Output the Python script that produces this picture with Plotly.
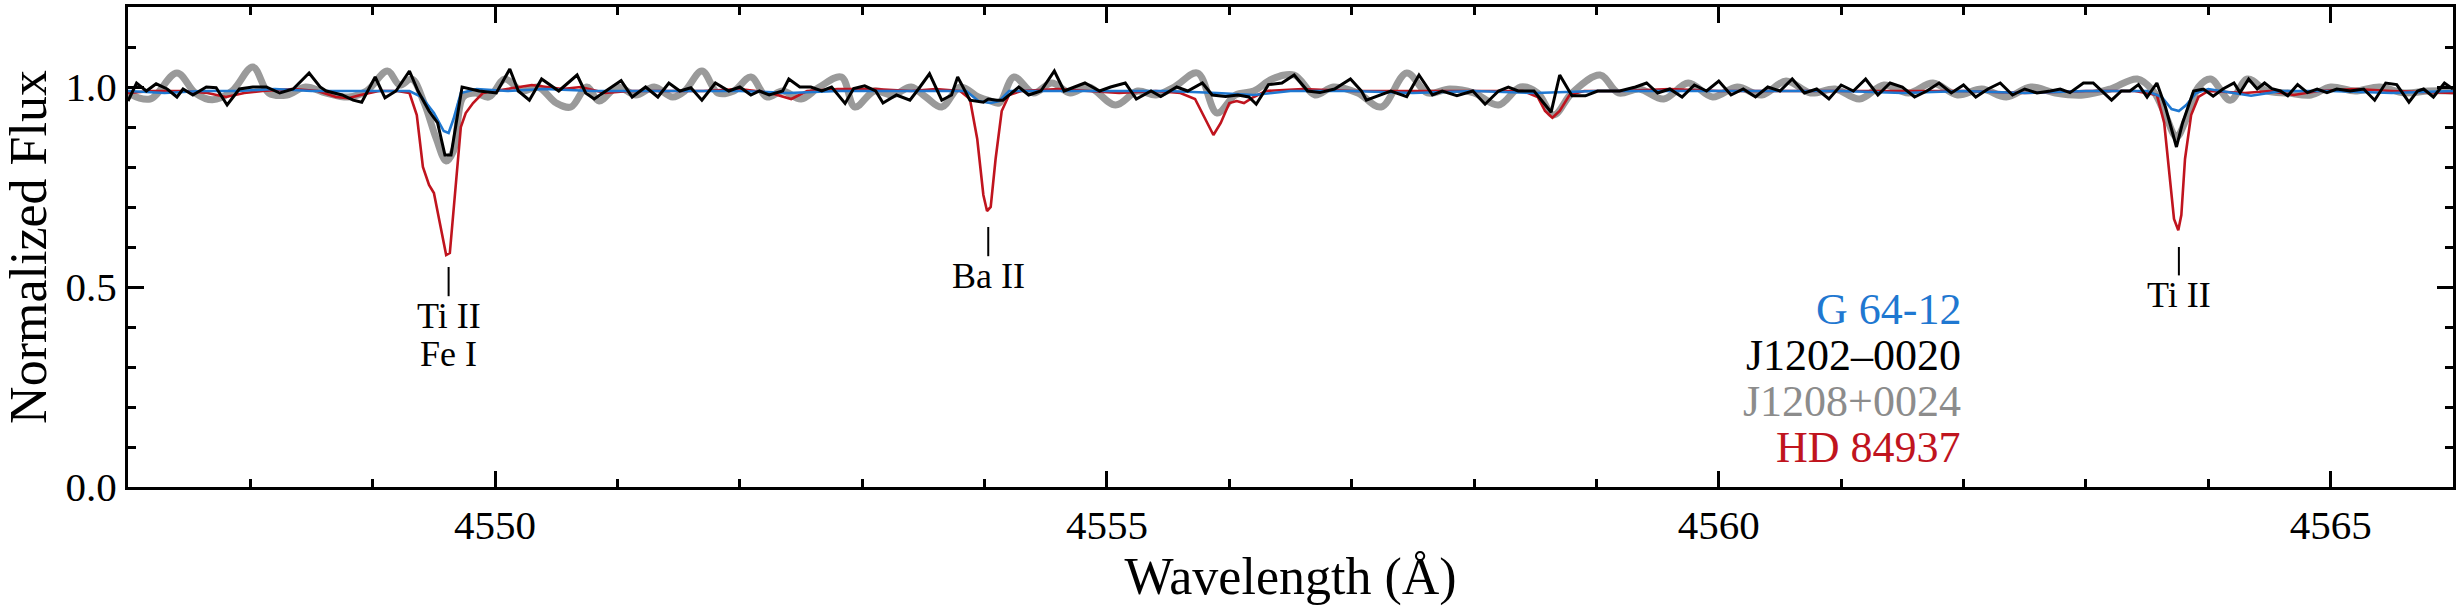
import plotly.graph_objects as go

# ---------------- data ----------------
# J1208+0024 (thick grey)
wave_gray = [4547.00, 4547.18, 4547.40, 4547.55, 4547.69, 4547.85, 4548.02, 4548.15, 4548.30, 4548.45,
             4548.62, 4548.80, 4548.95, 4549.12, 4549.22, 4549.32, 4549.42, 4549.52, 4549.60, 4549.66,
             4549.74, 4549.84, 4549.95, 4550.08, 4550.22, 4550.35, 4550.50, 4550.62, 4550.75, 4550.85,
             4551.00, 4551.15, 4551.30, 4551.45, 4551.55, 4551.69, 4551.82, 4551.95, 4552.09, 4552.22,
             4552.35, 4552.50, 4552.65, 4552.83, 4552.94, 4553.10, 4553.25, 4553.40, 4553.52, 4553.65,
             4553.80, 4553.95, 4554.05, 4554.12, 4554.24, 4554.40, 4554.55, 4554.70, 4554.85, 4555.07,
             4555.25, 4555.40, 4555.55, 4555.74, 4555.90, 4556.05, 4556.20, 4556.35, 4556.53, 4556.70,
             4556.85, 4557.05, 4557.24, 4557.45, 4557.62, 4557.80, 4558.00, 4558.20, 4558.38, 4558.52,
             4558.65, 4558.80, 4559.03, 4559.18, 4559.35, 4559.55, 4559.75, 4559.95, 4560.15, 4560.35,
             4560.55, 4560.75, 4560.95, 4561.15, 4561.35, 4561.55, 4561.75, 4561.95, 4562.15, 4562.35,
             4562.55, 4562.75, 4562.98, 4563.20, 4563.42, 4563.55, 4563.65, 4563.74, 4563.82, 4563.92,
             4564.02, 4564.18, 4564.32, 4564.48, 4564.65, 4564.84, 4565.00, 4565.20, 4565.40, 4565.60,
             4565.80, 4566.00]
flux_gray = [0.985, 0.970, 1.035, 0.985, 0.968, 0.990, 1.050, 0.985, 0.980, 1.000,
             0.985, 0.975, 0.990, 1.040, 1.005, 1.020, 0.960, 0.870, 0.815, 0.840,
             0.975, 0.985, 0.975, 1.020, 0.990, 1.000, 0.960, 0.950, 1.000, 0.965,
             1.000, 0.980, 1.000, 0.975, 0.990, 1.040, 0.985, 0.990, 1.025, 0.975,
             0.990, 0.970, 1.000, 1.025, 0.950, 0.990, 0.980, 1.000, 0.975, 0.950,
             1.000, 0.975, 0.965, 0.960, 1.025, 0.985, 1.010, 0.985, 1.000, 0.955,
             0.990, 0.980, 1.000, 1.035, 0.935, 0.980, 0.990, 1.020, 1.030, 0.980,
             1.000, 0.985, 0.950, 1.035, 0.985, 0.995, 0.985, 0.955, 1.000, 0.985,
             0.930, 0.985, 1.030, 0.985, 0.995, 0.970, 1.010, 0.975, 1.000, 0.980,
             1.015, 0.985, 0.995, 0.970, 1.005, 0.985, 1.010, 0.980, 0.995, 0.975,
             1.000, 0.985, 0.980, 0.995, 1.020, 0.990, 0.930, 0.875, 0.920, 1.000,
             1.020, 0.967, 1.020, 0.990, 0.985, 0.980, 1.000, 0.990, 1.000, 0.985,
             0.990, 0.990]

# HD 84937 (red)
wave_red = [4547.00, 4547.20, 4547.45, 4547.65, 4547.80, 4547.95, 4548.10, 4548.35, 4548.55, 4548.70,
            4548.80, 4548.90, 4549.05, 4549.20, 4549.30, 4549.36, 4549.41, 4549.46, 4549.50, 4549.55,
            4549.60, 4549.63, 4549.68, 4549.72, 4549.76, 4549.82, 4549.90, 4550.00, 4550.30, 4550.55,
            4550.70, 4550.90, 4551.10, 4551.40, 4551.70, 4552.00, 4552.25, 4552.42, 4552.55, 4552.80,
            4553.10, 4553.40, 4553.60, 4553.80, 4553.88, 4553.94, 4553.99, 4554.02, 4554.05, 4554.09,
            4554.14, 4554.20, 4554.30, 4554.60, 4554.90, 4555.10, 4555.40, 4555.60, 4555.72, 4555.80,
            4555.87, 4555.93, 4556.00, 4556.06, 4556.12, 4556.20, 4556.30, 4556.60, 4557.00, 4557.40,
            4557.80, 4558.10, 4558.40, 4558.52, 4558.58, 4558.64, 4558.70, 4558.78, 4558.90, 4559.20,
            4559.60, 4560.00, 4560.50, 4561.00, 4561.50, 4562.00, 4562.50, 4563.00, 4563.40, 4563.58,
            4563.64, 4563.68, 4563.72, 4563.755, 4563.78, 4563.81, 4563.86, 4563.92, 4564.00, 4564.30,
            4564.50, 4564.70, 4564.90, 4565.20, 4565.50, 4566.00]
flux_red = [0.985, 0.990, 0.990, 0.985, 0.975, 0.985, 0.990, 0.995, 0.990, 0.975,
            0.972, 0.980, 0.990, 0.990, 0.985, 0.930, 0.800, 0.755, 0.735, 0.660,
            0.580, 0.585, 0.770, 0.900, 0.935, 0.960, 0.985, 0.990, 1.005, 0.995,
            1.000, 0.985, 0.990, 0.990, 0.990, 0.995, 0.985, 0.970, 0.990, 0.995,
            0.995, 0.990, 0.995, 0.990, 0.970, 0.870, 0.730, 0.690, 0.700, 0.820,
            0.940, 0.980, 0.990, 0.995, 0.990, 0.985, 0.990, 0.985, 0.970, 0.920,
            0.880, 0.910, 0.960, 0.965, 0.960, 0.975, 0.990, 0.995, 0.990, 0.990,
            0.990, 0.990, 0.990, 0.975, 0.940, 0.923, 0.940, 0.980, 0.990, 0.990,
            0.995, 0.990, 0.990, 0.990, 0.990, 0.990, 0.985, 0.990, 0.990, 0.980,
            0.910, 0.780, 0.670, 0.642, 0.680, 0.820, 0.930, 0.975, 0.990, 0.985,
            0.990, 0.980, 0.990, 0.995, 0.990, 0.985]

# G 64-12 (blue)
wave_blue = [4547.00, 4547.30, 4547.60, 4547.90, 4548.20, 4548.50, 4548.80, 4549.10, 4549.30, 4549.40,
             4549.50, 4549.58, 4549.62, 4549.66, 4549.72, 4549.85, 4550.10, 4550.40, 4550.80, 4551.20,
             4551.60, 4552.00, 4552.40, 4552.80, 4553.20, 4553.60, 4553.85, 4553.95, 4554.05, 4554.12,
             4554.20, 4554.60, 4555.00, 4555.50, 4555.90, 4556.20, 4556.50, 4557.00, 4557.50, 4558.00,
             4558.50, 4559.00, 4559.50, 4560.00, 4560.50, 4561.00, 4561.50, 4562.00, 4562.50, 4563.00,
             4563.50, 4563.62, 4563.70, 4563.76, 4563.82, 4563.90, 4564.00, 4564.35, 4564.60, 4565.00,
             4565.50, 4566.00]
flux_blue = [0.990, 0.985, 0.990, 0.990, 0.995, 0.990, 0.990, 0.990, 0.990, 0.975,
             0.935, 0.890, 0.885, 0.920, 0.985, 0.995, 0.990, 0.995, 0.990, 0.990,
             0.990, 0.990, 0.985, 0.990, 0.990, 0.990, 0.990, 0.965, 0.960, 0.965,
             0.990, 0.990, 0.990, 0.990, 0.985, 0.980, 0.990, 0.990, 0.985, 0.990,
             0.985, 0.990, 0.990, 0.990, 0.990, 0.990, 0.985, 0.990, 0.985, 0.990,
             0.990, 0.975, 0.945, 0.940, 0.955, 0.985, 0.995, 0.978, 0.990, 0.990,
             0.985, 0.990]

# J1202-0020 (black)
wave_black = [4547.00, 4547.07, 4547.15, 4547.23, 4547.32, 4547.40, 4547.45, 4547.53, 4547.64, 4547.72,
              4547.81, 4547.91, 4548.02, 4548.13, 4548.24, 4548.35, 4548.48, 4548.57, 4548.62, 4548.75,
              4548.84, 4548.91, 4549.02, 4549.10, 4549.19, 4549.30, 4549.37, 4549.46, 4549.53, 4549.59,
              4549.64, 4549.73, 4549.87, 4550.01, 4550.12, 4550.19, 4550.28, 4550.38, 4550.52, 4550.67,
              4550.74, 4550.81, 4550.92, 4551.03, 4551.12, 4551.23, 4551.33, 4551.42, 4551.51, 4551.60,
              4551.69, 4551.80, 4551.91, 4552.00, 4552.09, 4552.16, 4552.24, 4552.35, 4552.40, 4552.49,
              4552.58, 4552.67, 4552.75, 4552.86, 4552.93, 4553.02, 4553.11, 4553.17, 4553.28, 4553.39,
              4553.46, 4553.55, 4553.65, 4553.73, 4553.78, 4553.88, 4553.99, 4554.03, 4554.10, 4554.15,
              4554.28, 4554.36, 4554.46, 4554.57, 4554.65, 4554.82, 4554.94, 4555.03, 4555.15, 4555.24,
              4555.36, 4555.44, 4555.57, 4555.66, 4555.78, 4555.86, 4555.97, 4556.07, 4556.16, 4556.22,
              4556.32, 4556.43, 4556.53, 4556.64, 4556.74, 4556.86, 4556.99, 4557.08, 4557.12, 4557.24,
              4557.32, 4557.45, 4557.55, 4557.66, 4557.74, 4557.86, 4557.99, 4558.09, 4558.20, 4558.28,
              4558.36, 4558.49, 4558.63, 4558.70, 4558.80, 4558.91, 4559.01, 4559.11, 4559.19, 4559.32,
              4559.41, 4559.50, 4559.60, 4559.70, 4559.80, 4559.90, 4560.00, 4560.10, 4560.20, 4560.30,
              4560.40, 4560.50, 4560.60, 4560.70, 4560.80, 4560.90, 4561.00, 4561.10, 4561.20, 4561.30,
              4561.40, 4561.50, 4561.60, 4561.70, 4561.80, 4561.90, 4562.00, 4562.10, 4562.20, 4562.30,
              4562.40, 4562.50, 4562.60, 4562.71, 4562.79, 4562.87, 4562.98, 4563.06, 4563.14, 4563.21,
              4563.29, 4563.36, 4563.43, 4563.50, 4563.58, 4563.65, 4563.74, 4563.79, 4563.88, 4563.96,
              4564.04, 4564.12, 4564.21, 4564.26, 4564.33, 4564.40, 4564.46, 4564.52, 4564.59, 4564.65,
              4564.73, 4564.81, 4564.89, 4564.97, 4565.05, 4565.16, 4565.27, 4565.36, 4565.45, 4565.54,
              4565.64, 4565.71, 4565.76, 4565.84, 4565.93, 4566.00]
flux_black = [0.965, 1.010, 0.990, 1.008, 0.995, 0.975, 0.995, 0.980, 1.000, 0.998,
              0.955, 0.995, 1.000, 1.000, 0.985, 0.995, 1.035, 1.000, 0.990, 0.980,
              0.967, 0.962, 1.025, 0.973, 0.990, 1.040, 0.990, 0.940, 0.910, 0.830,
              0.830, 1.000, 0.990, 0.985, 1.045, 0.990, 0.967, 1.020, 0.990, 1.030,
              0.985, 0.970, 0.993, 1.016, 0.975, 1.000, 0.975, 1.010, 0.990, 0.998,
              0.967, 1.010, 0.990, 1.000, 0.980, 0.990, 0.980, 0.990, 1.020, 1.000,
              1.000, 0.990, 1.000, 0.959, 0.996, 1.003, 0.990, 0.960, 0.980, 0.967,
              0.995, 1.033, 0.967, 0.980, 1.025, 0.967, 0.962, 0.970, 0.967, 0.967,
              1.000, 0.980, 0.990, 1.040, 0.990, 1.010, 0.990, 1.000, 1.010, 0.970,
              0.990, 0.976, 1.000, 0.990, 1.010, 0.980, 0.976, 0.980, 0.975, 0.957,
              1.006, 1.010, 1.030, 0.990, 0.986, 0.995, 1.020, 0.990, 0.967, 0.980,
              0.990, 0.976, 1.030, 0.980, 0.990, 0.978, 0.990, 0.957, 0.990, 1.000,
              0.990, 0.990, 0.937, 1.030, 0.978, 0.978, 0.990, 0.990, 0.990, 1.000,
              1.010, 0.985, 0.995, 0.975, 1.005, 0.990, 1.015, 0.980, 0.995, 0.975,
              1.000, 0.990, 1.020, 0.985, 0.995, 0.970, 1.005, 0.990, 1.020, 0.980,
              1.010, 1.000, 0.975, 0.990, 1.010, 0.985, 1.005, 0.975, 0.995, 1.010,
              0.980, 0.995, 0.985, 0.990, 0.995, 0.986, 1.010, 1.010, 0.986, 0.967,
              0.990, 0.990, 1.006, 0.975, 1.010, 0.950, 0.850, 0.910, 0.990, 0.995,
              0.977, 0.995, 1.010, 0.986, 1.020, 0.995, 1.010, 0.996, 0.990, 0.978,
              1.006, 0.986, 0.995, 0.986, 0.995, 0.990, 0.995, 0.967, 1.010, 1.006,
              0.962, 0.990, 0.995, 0.975, 1.010, 0.995]

# line identifications
line_waves = [4549.62, 4554.03, 4563.76]
line_labels = [["Ti II", "Fe I"], ["Ba II"], ["Ti II"]]
line_tick_top = [0.55, 0.65, 0.60]
line_tick_bottom = [0.477, 0.577, 0.529]

# legend entries
star_names = ["G 64-12", "J1202\u20130020", "J1208+0024", "HD 84937"]
star_colors = ["#1f78d1", "#000000", "#8c8c8c", "#c0141e"]

FONT = "Liberation Serif"

fig = go.Figure()
fig.add_trace(go.Scatter(x=wave_gray, y=flux_gray, mode="lines",
                         line=dict(color="#9a9a9a", width=7, shape="spline", smoothing=1.0)))
fig.add_trace(go.Scatter(x=wave_red, y=flux_red, mode="lines",
                         line=dict(color="#c0141e", width=2.6)))
fig.add_trace(go.Scatter(x=wave_blue, y=flux_blue, mode="lines",
                         line=dict(color="#1f78d1", width=2.6)))
fig.add_trace(go.Scatter(x=wave_black, y=flux_black, mode="lines",
                         line=dict(color="#000000", width=3)))

# line markers and labels
for w, labs, yt, yb in zip(line_waves, line_labels, line_tick_top, line_tick_bottom):
    fig.add_shape(type="line", xref="x", yref="y", x0=w, x1=w, y0=yb, y1=yt,
                  line=dict(color="black", width=2))
    for k, lab in enumerate(labs):
        fig.add_annotation(x=w, y=yb, xref="x", yref="y", text=lab, showarrow=False,
                           xanchor="center", yanchor="top", yshift=2 - 38 * k,
                           font=dict(family=FONT, size=36, color="black"))

# legend as coloured text
for k, (name, col) in enumerate(zip(star_names, star_colors)):
    fig.add_annotation(x=0.789, y=0.369 - 0.0958 * k, xref="paper", yref="paper",
                       text=name, showarrow=False, xanchor="right", yanchor="middle",
                       borderpad=0,
                       font=dict(family=FONT, size=44, color=col))

axis_common = dict(showline=True, linecolor="black", linewidth=3, mirror="ticks",
                   ticks="inside", ticklen=16, tickwidth=3, tickcolor="black",
                   showgrid=False, zeroline=False,
                   tickfont=dict(family=FONT, size=41, color="black"))

fig.update_xaxes(range=[4547.0, 4566.0], dtick=5, tick0=4550,
                 minor=dict(ticks="inside", ticklen=8, tickwidth=3, tickcolor="black",
                            dtick=1, tick0=4550, showgrid=False),
                 title=dict(text="Wavelength (Å)", font=dict(family=FONT, size=52, color="black"),
                            standoff=0),
                 **axis_common)
fig.update_yaxes(range=[0.0, 1.2], dtick=0.5, tick0=0, tickformat=".1f",
                 minor=dict(ticks="inside", ticklen=8, tickwidth=3, tickcolor="black",
                            dtick=0.1, tick0=0, showgrid=False),
                 title=dict(text="Normalized Flux", font=dict(family=FONT, size=52, color="black"),
                            standoff=14),
                 **axis_common)

fig.update_layout(width=2461, height=611, showlegend=False,
                  paper_bgcolor="white", plot_bgcolor="white",
                  margin=dict(l=128, r=8, t=7, b=124, autoexpand=False))

fig.write_html("out.html")
